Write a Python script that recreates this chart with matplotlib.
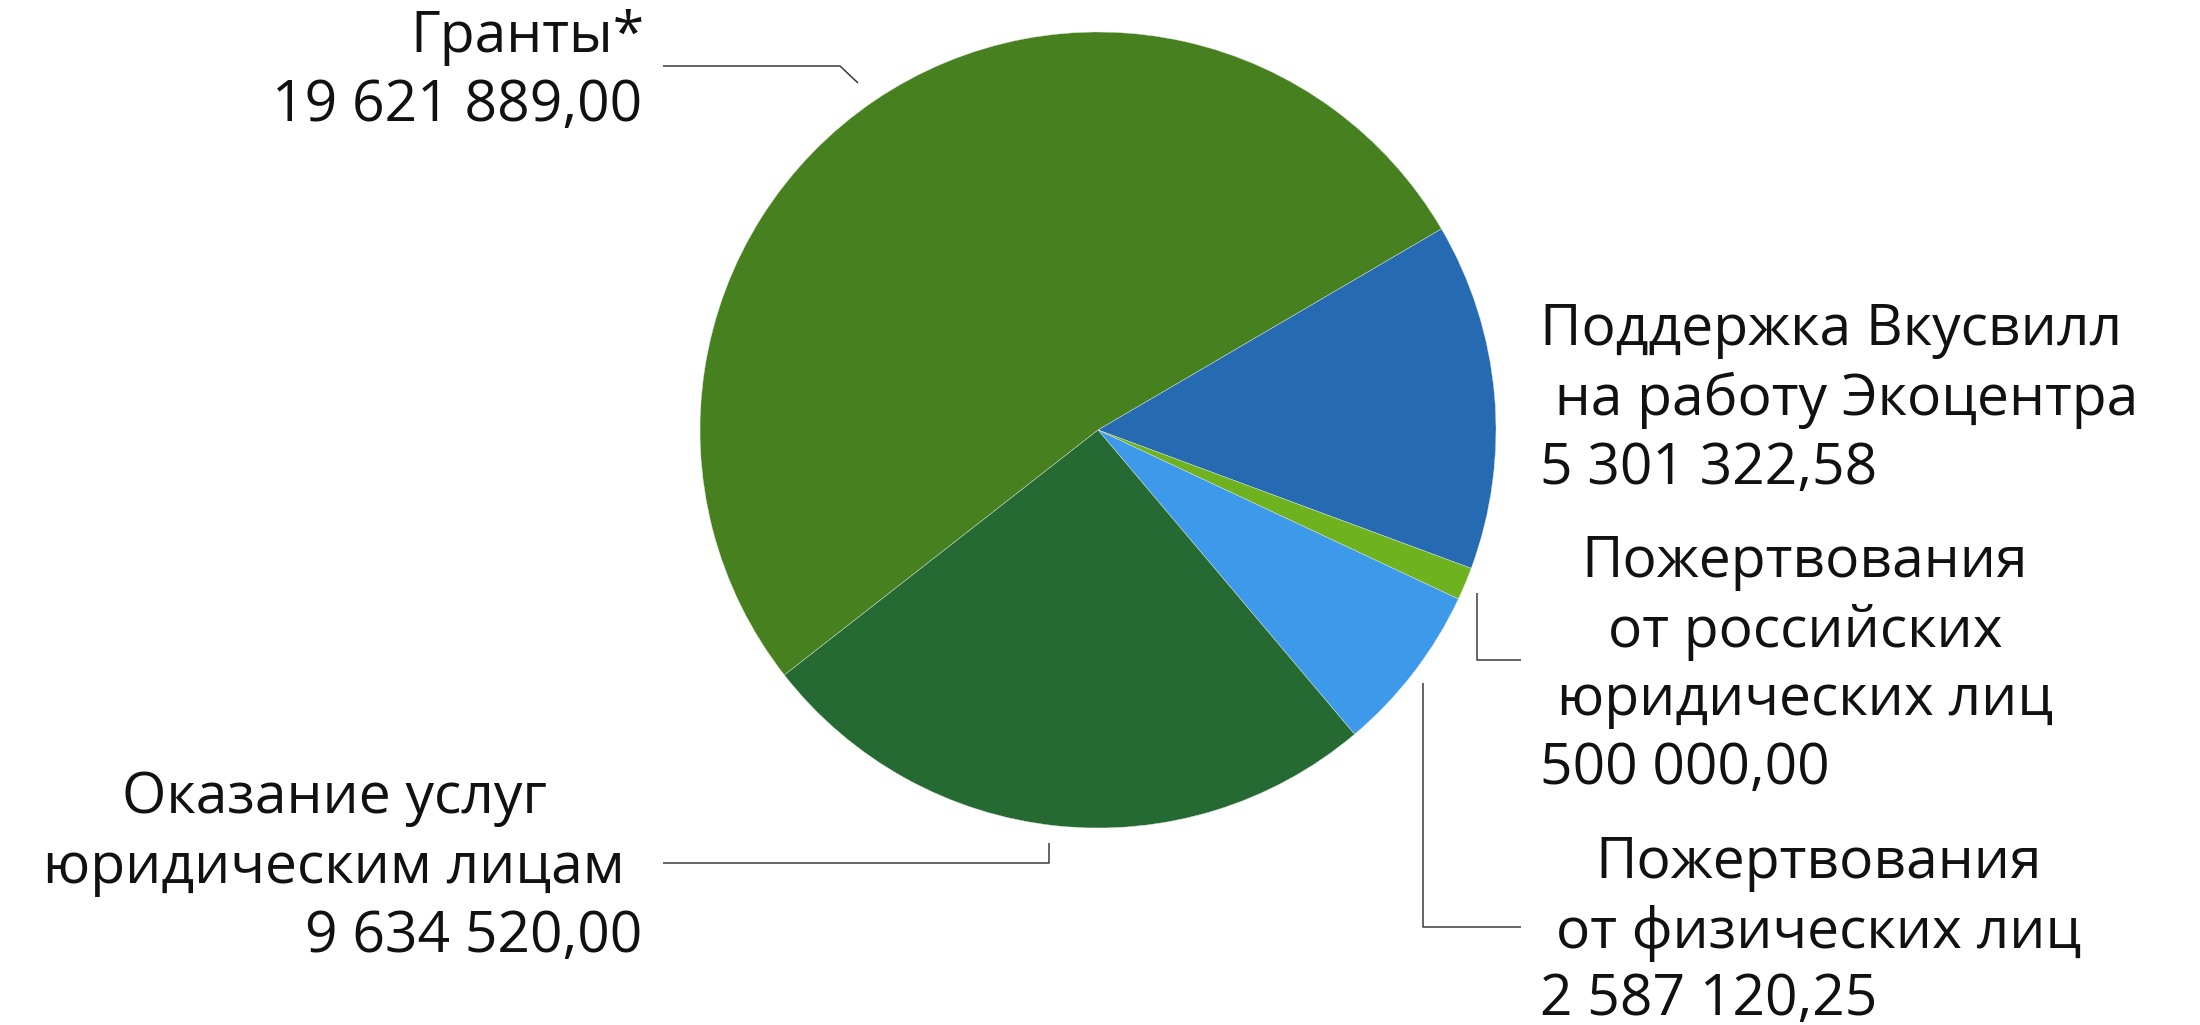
"""Pie chart of income sources (Экоцентр)."""

import matplotlib

matplotlib.use("Agg")
import matplotlib.pyplot as plt

# data
names = [
    ["Гранты*"],
    ["Поддержка Вкусвилл", " на работу Экоцентра"],
    ["Пожертвования", "от российских", "юридических лиц"],
    ["Пожертвования", "от физических лиц"],
    ["Оказание услуг", "юридическим лицам"],
]
values = [19621889.00, 5301322.58, 500000.00, 2587120.25, 9634520.00]
colors = ["#47801F", "#266AB1", "#6FB21F", "#3D9AEB", "#246A32"]

W, H = 2200, 1025
FONT = ["Open Sans", "DejaVu Sans"]
FS = 41

# label layout in pixel coords (y from top)
# (name_ha, name_x, name_baselines, num_ha, num_x, num_baseline)
label_pos = [
    ("right", 645, [52], "right", 642, 121),
    ("left", 1540, [345, 415], "left", 1540, 484),
    ("center", 1805, [577, 647, 715], "left", 1540, 784),
    ("center", 1819, [878, 948], "left", 1540, 1015),
    ("center", 334, [813, 883], "right", 642, 952),
]
leaders = [
    [(663, 66), (840, 66), (858, 83)],
    None,
    [(1477, 593), (1477, 660), (1521, 660)],
    [(1423, 683), (1423, 927), (1521, 927)],
    [(663, 863), (1049, 863), (1049, 843)],
]


def fmt(v):
    return f"{v:,.2f}".replace(",", " ").replace(".", ",")


fig = plt.figure(figsize=(22, 10.25), dpi=100)
ax = fig.add_axes([0, 0, 1, 1])

ax.pie(
    values,
    colors=colors,
    startangle=218,
    counterclock=False,
    center=(1098, H - 430),
    radius=398,
    frame=True,
    wedgeprops=dict(linewidth=0.3, edgecolor="#dfe8da"),
)
ax.set_xlim(0, W)
ax.set_ylim(0, H)
ax.set_aspect("auto")
ax.axis("off")

for i, lines in enumerate(names):
    nha, nx, nys, vha, vx, vy = label_pos[i]
    for line, y in zip(lines, nys):
        ax.text(nx, H - y, line, ha=nha, va="baseline", fontsize=FS,
                family=FONT, color="#111111")
    ax.text(vx, H - vy, fmt(values[i]), ha=vha, va="baseline", fontsize=FS,
            family=FONT, color="#111111")
    if leaders[i]:
        xs = [p[0] for p in leaders[i]]
        ys = [H - p[1] for p in leaders[i]]
        ax.plot(xs, ys, color="#3a3a3a", linewidth=1.1, solid_capstyle="butt")

fig.savefig("out.png", dpi=100, facecolor="white")
